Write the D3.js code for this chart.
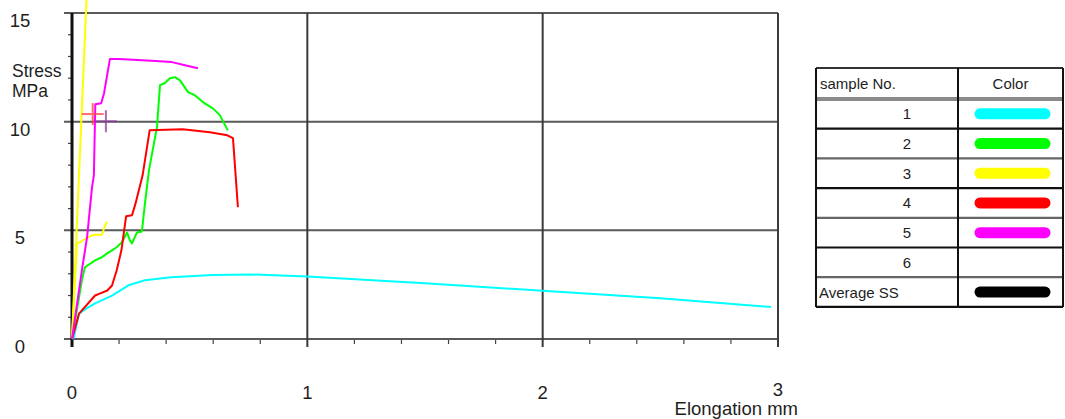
<!DOCTYPE html>
<html>
<head>
<meta charset="utf-8">
<script src="https://cdn.jsdelivr.net/npm/d3@7"></script>
<style>
    body { margin: 0; background: #fff; }
    text { font-family: "Liberation Sans", Arial, sans-serif; fill: #1e1e1e; }
</style>
</head>
<body>
<div id="chart"></div>
<script>

// ---- data ----
const xTicks = [0, 1, 2, 3];
const yTicks = [0, 5, 10, 15];

const sampleNames = ["1", "2", "3", "4", "5", "6", "Average SS"];
const sampleColors = ["#00ffff", "#00ff00", "#ffff00", "#ff0000", "#ff00ff", null, "#000000"];

// [elongation mm, stress MPa]
const sample1 = [[0, 0], [0.008, 0.07], [0.03, 1.17], [0.06, 1.4], [0.098, 1.64], [0.17, 2.0],
    [0.24, 2.47], [0.31, 2.7], [0.42, 2.84], [0.6, 2.94], [0.76, 2.97], [1.0, 2.88],
    [1.5, 2.57], [2.0, 2.22], [2.5, 1.88], [2.97, 1.47]];

const sample2 = [[0, 0], [0.042, 2.7], [0.055, 3.3], [0.098, 3.62], [0.127, 3.76], [0.149, 3.94],
    [0.17, 4.08], [0.19, 4.22], [0.212, 4.45], [0.234, 4.9], [0.246, 4.54], [0.255, 4.4],
    [0.276, 4.9], [0.297, 4.95], [0.31, 6.24], [0.327, 7.76], [0.361, 9.75], [0.374, 11.68],
    [0.395, 11.78], [0.416, 12.0], [0.437, 12.05], [0.459, 11.9], [0.493, 11.36], [0.522, 11.22],
    [0.556, 10.9], [0.6, 10.6], [0.628, 10.3], [0.662, 9.6]];

// sample 3 is drawn as two traces
const sample3a = [[0, 0], [0.0616, 15.6]];
const sample3b = [[0, 0], [0.021, 4.4], [0.035, 4.45], [0.055, 4.6], [0.075, 4.72], [0.095, 4.8],
    [0.127, 4.8], [0.14, 5.2], [0.149, 5.4]];

const sample4 = [[0, 0], [0.03, 1.17], [0.098, 2.0], [0.12, 2.1], [0.15, 2.23], [0.17, 2.46],
    [0.19, 3.16], [0.21, 4.08], [0.23, 5.65], [0.255, 5.69], [0.27, 6.24], [0.30, 7.53],
    [0.33, 9.6], [0.47, 9.65], [0.586, 9.51], [0.66, 9.37], [0.684, 9.24], [0.705, 6.06]];

const sample5 = [[0, 0], [0.042, 3.16], [0.064, 4.68], [0.085, 6.98], [0.093, 7.53], [0.099, 10.8],
    [0.124, 10.85], [0.136, 11.3], [0.161, 12.88], [0.2, 12.88], [0.30, 12.83], [0.425, 12.74],
    [0.48, 12.6], [0.535, 12.46]];

// cross markers near the yield point
const markerX = [0.088, 0.144];
const markerY = [10.35, 10.02];
const markerColors = ["#ff4040", "#8a3a9a"];


class StressVis {

    constructor(parentElement) {
        this.parentElement = parentElement;
        this.initVis();
    }

    initVis() {
        let vis = this;

        vis.width = 1065;
        vis.height = 419;

        vis.svg = d3.select("#" + vis.parentElement).append("svg")
            .attr("width", vis.width)
            .attr("height", vis.height);

        // scales
        vis.x = d3.scaleLinear().domain([0, 3]).range([72, 778]);
        vis.y = d3.scaleLinear().domain([0, 15]).range([339, 13]);

        vis.line = d3.line()
            .x(d => vis.x(d[0]))
            .y(d => vis.y(d[1]));

        vis.drawFrame();
        vis.drawCurves();
        vis.drawLegend();
    }

    drawFrame() {
        let vis = this;
        let frame = vis.svg.append("g").attr("class", "frame");

        // minor ticks, x every 0.2
        let xMinor = d3.range(0, 3.001, 0.2).filter(v => Math.abs(v - Math.round(v)) > 0.01);
        frame.selectAll(".x-minor")
            .data(xMinor)
            .enter().append("line")
            .attr("x1", d => vis.x(d)).attr("x2", d => vis.x(d))
            .attr("y1", vis.y(0)).attr("y2", vis.y(0) + 5)
            .style("stroke", "#444")
            .style("stroke-width", 1.2);

        // minor ticks, y every 1
        let yMinor = d3.range(1, 15).filter(v => v % 5 !== 0);
        frame.selectAll(".y-minor")
            .data(yMinor)
            .enter().append("line")
            .attr("x1", vis.x(0) - 4).attr("x2", vis.x(0))
            .attr("y1", d => vis.y(d)).attr("y2", d => vis.y(d))
            .style("stroke", "#444")
            .style("stroke-width", 1.2);

        // horizontal grid (incl. top and bottom)
        frame.selectAll(".h-grid")
            .data(yTicks)
            .enter().append("line")
            .attr("x1", vis.x(0) - 8).attr("x2", vis.x(3))
            .attr("y1", d => vis.y(d)).attr("y2", d => vis.y(d))
            .style("stroke", "#5a5a5a")
            .style("stroke-width", 2);

        // vertical grid (incl. right border)
        frame.selectAll(".v-grid")
            .data(xTicks.filter(d => d > 0))
            .enter().append("line")
            .attr("x1", d => vis.x(d)).attr("x2", d => vis.x(d))
            .attr("y1", vis.y(15)).attr("y2", vis.y(0) + 8)
            .style("stroke", "#3a3a3a")
            .style("stroke-width", 2);

        // left axis
        frame.append("line")
            .attr("x1", vis.x(0)).attr("x2", vis.x(0))
            .attr("y1", vis.y(15)).attr("y2", vis.y(0) + 8)
            .style("stroke", "#111")
            .style("stroke-width", 3);

        // tick labels
        frame.selectAll(".y-label")
            .data(yTicks)
            .enter().append("text")
            .attr("x", 20)
            .attr("y", d => vis.y(d) + 14)
            .attr("text-anchor", "middle")
            .style("font-size", "18.5px")
            .text(d => d);

        frame.selectAll(".x-label")
            .data(xTicks)
            .enter().append("text")
            .attr("x", d => vis.x(d))
            .attr("y", d => d === 3 ? 396 : 399)
            .attr("text-anchor", "middle")
            .style("font-size", "18.5px")
            .text(d => d);

        // axis titles
        frame.append("text")
            .attr("x", 12).attr("y", 77)
            .style("font-size", "17.5px")
            .text("Stress");
        frame.append("text")
            .attr("x", 12).attr("y", 97)
            .style("font-size", "17.5px")
            .text("MPa");
        frame.append("text")
            .attr("x", 798).attr("y", 415)
            .attr("text-anchor", "end")
            .style("font-size", "18.5px")
            .text("Elongation mm");
    }

    drawCurves() {
        let vis = this;

        let curves = [
            {data: sample1, color: sampleColors[0]},
            {data: sample2, color: sampleColors[1]},
            {data: sample3a, color: sampleColors[2]},
            {data: sample3b, color: sampleColors[2]},
            {data: sample4, color: sampleColors[3]},
            {data: sample5, color: sampleColors[4]}
        ];

        vis.svg.append("g").attr("class", "curves")
            .selectAll("path")
            .data(curves)
            .enter().append("path")
            .attr("d", d => vis.line(d.data))
            .style("fill", "none")
            .style("stroke", d => d.color)
            .style("stroke-width", 2)
            .style("stroke-linejoin", "round");

        // cross markers
        let markers = vis.svg.append("g").attr("class", "markers")
            .selectAll("g")
            .data(markerX.map((mx, i) => ({x: mx, y: markerY[i], color: markerColors[i]})))
            .enter().append("g")
            .attr("transform", d => `translate(${vis.x(d.x)}, ${vis.y(d.y)})`)
            .style("opacity", 0.75);

        markers.append("line")
            .attr("x1", -11).attr("x2", 11)
            .style("stroke", d => d.color).style("stroke-width", 2);
        markers.append("line")
            .attr("y1", -11).attr("y2", 11)
            .style("stroke", d => d.color).style("stroke-width", 2);
    }

    drawLegend() {
        let vis = this;

        let left = 816, mid = 958, right = 1063;
        let top = 68, headBottom = 99, rowH = 29.7;

        let legend = vis.svg.append("g").attr("class", "legend-table");

        // header
        legend.append("text")
            .attr("x", left + 4).attr("y", top + 21)
            .style("font-size", "15px")
            .text("sample No.");
        legend.append("text")
            .attr("x", (mid + right) / 2).attr("y", top + 21)
            .attr("text-anchor", "middle")
            .style("font-size", "15px")
            .text("Color");

        let rows = legend.selectAll(".row")
            .data(sampleNames.map((n, i) => ({name: n, color: sampleColors[i], i: i})))
            .enter().append("g")
            .attr("class", "row")
            .attr("transform", d => `translate(0, ${headBottom + d.i * rowH})`);

        rows.append("text")
            .attr("x", d => d.name.length > 1 ? left + 3 : 911)
            .attr("y", rowH / 2 + 5.5)
            .attr("text-anchor", d => d.name.length > 1 ? "start" : "end")
            .style("font-size", "15px")
            .text(d => d.name);

        rows.filter(d => d.color !== null)
            .append("line")
            .attr("x1", 980).attr("x2", 1045)
            .attr("y1", rowH / 2).attr("y2", rowH / 2)
            .style("stroke", d => d.color)
            .style("stroke-width", 11)
            .style("stroke-linecap", "round");

        // grid lines of the table
        let hLines = d3.range(0, sampleNames.length + 1).map(i => headBottom + i * rowH);
        legend.selectAll(".h-rule")
            .data(hLines)
            .enter().append("line")
            .attr("x1", left).attr("x2", right)
            .attr("y1", d => d).attr("y2", d => d)
            .style("stroke", (d, i) => i === 0 ? "#8a8a8a" : (i % 2 === 0 ? "#666" : "#111"))
            .style("stroke-width", (d, i) => i === 0 ? 4 : 2.2);

        legend.append("line")
            .attr("x1", left).attr("x2", right)
            .attr("y1", top).attr("y2", top)
            .style("stroke", "#333").style("stroke-width", 2);

        legend.selectAll(".v-rule")
            .data([left, mid, right])
            .enter().append("line")
            .attr("x1", d => d).attr("x2", d => d)
            .attr("y1", top).attr("y2", hLines[hLines.length - 1])
            .style("stroke", "#111")
            .style("stroke-width", 2);
    }
}

new StressVis("chart");

</script>
</body>
</html>
